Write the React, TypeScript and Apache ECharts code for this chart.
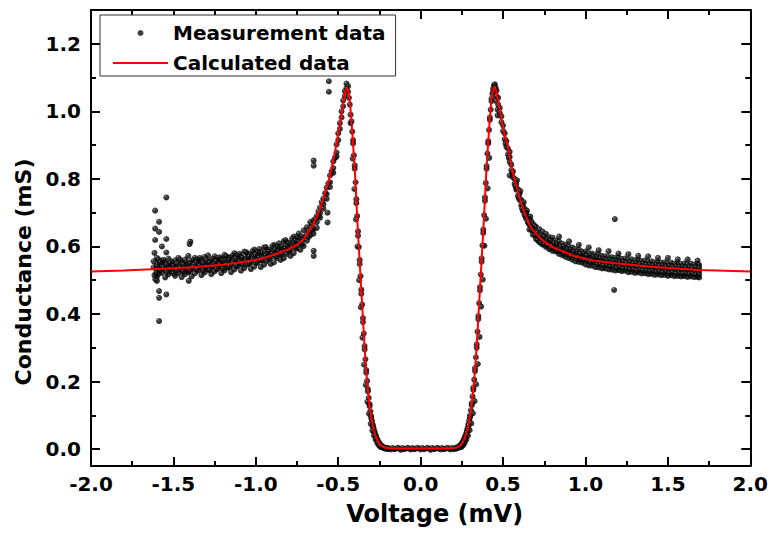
import React, { useEffect, useRef } from "react";
import * as echarts from "echarts";

// ---------- Data ----------
const xTicks = [-2.0, -1.5, -1.0, -0.5, 0.0, 0.5, 1.0, 1.5, 2.0];
const yMajorTicks = [0, 0.2, 0.4, 0.6, 0.8, 1.0, 1.2];
const yMinorTicks = [0.1, 0.3, 0.5, 0.7, 0.9, 1.1];

// Calculated data (red line)
const calcLeft: [number, number][] = [
  [-2.0, 0.526], [-1.8, 0.529], [-1.6, 0.533], [-1.4, 0.538], [-1.2, 0.546], [-1.11, 0.552],
  [-1.0, 0.560], [-0.91, 0.572], [-0.8, 0.592], [-0.75, 0.605], [-0.71, 0.622], [-0.66, 0.658],
  [-0.61, 0.711], [-0.56, 0.79], [-0.53, 0.855], [-0.51, 0.905], [-0.49, 0.962], [-0.47, 1.022],
  [-0.455, 1.062], [-0.448, 1.072], [-0.44, 1.062], [-0.43, 1.03], [-0.42, 0.975], [-0.41, 0.905],
  [-0.40, 0.83], [-0.39, 0.735], [-0.38, 0.64], [-0.37, 0.555], [-0.36, 0.47], [-0.35, 0.385],
  [-0.34, 0.30], [-0.33, 0.23], [-0.32, 0.175], [-0.31, 0.13], [-0.30, 0.095], [-0.29, 0.07],
  [-0.28, 0.05], [-0.27, 0.035], [-0.26, 0.025], [-0.25, 0.017], [-0.24, 0.010], [-0.22, 0.005],
  [-0.20, 0.003], [-0.15, 0.002], [-0.10, 0.002], [0.0, 0.002],
];
const calcRight: [number, number][] = [
  [0.10, 0.002], [0.15, 0.002], [0.20, 0.003], [0.22, 0.005], [0.24, 0.010], [0.25, 0.017],
  [0.26, 0.025], [0.27, 0.036], [0.28, 0.052], [0.29, 0.072], [0.30, 0.097], [0.31, 0.133],
  [0.32, 0.178], [0.33, 0.235], [0.34, 0.305], [0.35, 0.39], [0.36, 0.475], [0.37, 0.56],
  [0.38, 0.645], [0.39, 0.74], [0.40, 0.835], [0.41, 0.91], [0.42, 0.98], [0.43, 1.035],
  [0.44, 1.065], [0.449, 1.074], [0.457, 1.063], [0.47, 1.03], [0.49, 0.975], [0.51, 0.93],
  [0.53, 0.895], [0.55, 0.84], [0.57, 0.80], [0.60, 0.745], [0.63, 0.70], [0.67, 0.655],
  [0.73, 0.622], [0.80, 0.598], [0.93, 0.572], [1.05, 0.558], [1.17, 0.551], [1.4, 0.540],
  [1.69, 0.530], [2.0, 0.526],
];

// Measurement data (black dots)
const measLeftTail: [number, number][] = [
  [-1.62, 0.556], [-1.62, 0.538], [-1.615, 0.515], [-1.615, 0.581], [-1.61, 0.503],
  [-1.60, 0.549], [-1.60, 0.527], [-1.60, 0.510], [-1.60, 0.566], [-1.59, 0.561], [-1.59, 0.534], [-1.59, 0.519],
  [-1.57, 0.545], [-1.57, 0.522], [-1.57, 0.558], [-1.55, 0.552], [-1.55, 0.531], [-1.55, 0.508],
  [-1.53, 0.564], [-1.53, 0.540], [-1.53, 0.517], [-1.51, 0.547], [-1.51, 0.526], [-1.51, 0.555],
  [-1.49, 0.559], [-1.49, 0.535], [-1.49, 0.513], [-1.47, 0.542], [-1.47, 0.566], [-1.47, 0.521],
  [-1.45, 0.553], [-1.45, 0.530], [-1.45, 0.509], [-1.43, 0.561], [-1.43, 0.538], [-1.43, 0.518],
  [-1.41, 0.548], [-1.41, 0.572], [-1.41, 0.524], [-1.39, 0.557], [-1.39, 0.533], [-1.39, 0.511],
  [-1.37, 0.566], [-1.37, 0.541], [-1.37, 0.520], [-1.35, 0.550], [-1.35, 0.528], [-1.35, 0.562],
  [-1.33, 0.558], [-1.33, 0.537], [-1.33, 0.515], [-1.31, 0.569], [-1.31, 0.544], [-1.31, 0.523],
  [-1.29, 0.553], [-1.29, 0.531], [-1.29, 0.574], [-1.27, 0.561], [-1.27, 0.540], [-1.27, 0.518],
  [-1.25, 0.571], [-1.25, 0.547], [-1.25, 0.526], [-1.23, 0.556], [-1.23, 0.534], [-1.23, 0.566],
  [-1.21, 0.563], [-1.21, 0.542], [-1.21, 0.521], [-1.19, 0.575], [-1.19, 0.550], [-1.19, 0.529],
  [-1.17, 0.559], [-1.17, 0.537], [-1.17, 0.569], [-1.15, 0.567], [-1.15, 0.546], [-1.15, 0.524],
  [-1.13, 0.580], [-1.13, 0.554], [-1.13, 0.532], [-1.11, 0.563], [-1.11, 0.541], [-1.11, 0.573],
  [-1.09, 0.571], [-1.09, 0.549], [-1.09, 0.528], [-1.07, 0.585], [-1.07, 0.559], [-1.07, 0.536],
  [-1.05, 0.568], [-1.05, 0.546], [-1.05, 0.579], [-1.03, 0.576], [-1.03, 0.555], [-1.03, 0.533],
  [-1.01, 0.591], [-1.01, 0.564], [-1.01, 0.540], [-0.99, 0.573], [-0.99, 0.551], [-0.99, 0.584],
  [-0.97, 0.582], [-0.97, 0.560], [-0.97, 0.539], [-0.95, 0.597], [-0.95, 0.571], [-0.95, 0.546],
  [-0.93, 0.580], [-0.93, 0.557], [-0.93, 0.591], [-0.91, 0.589], [-0.91, 0.567], [-0.91, 0.548],
  [-0.89, 0.605], [-0.89, 0.579], [-0.89, 0.553], [-0.87, 0.589], [-0.87, 0.566], [-0.87, 0.600],
  [-0.85, 0.598], [-0.85, 0.577], [-0.85, 0.560], [-0.83, 0.616], [-0.83, 0.590], [-0.83, 0.565],
  [-0.81, 0.600], [-0.81, 0.578], [-0.81, 0.612], [-0.79, 0.610], [-0.79, 0.590], [-0.79, 0.572],
  [-0.77, 0.629], [-0.77, 0.604], [-0.77, 0.580], [-0.75, 0.615], [-0.75, 0.594], [-0.75, 0.628],
  [-0.73, 0.627], [-0.73, 0.607], [-0.73, 0.590], [-0.71, 0.648], [-0.71, 0.622], [-0.71, 0.601],
];
const measLeftTail2: [number, number][] = [
  [-1.60, 0.541], [-1.605, 0.521], [-1.58, 0.553], [-1.58, 0.530], [-1.56, 0.538], [-1.56, 0.560],
  [-1.54, 0.545], [-1.54, 0.524], [-1.52, 0.533], [-1.52, 0.551], [-1.50, 0.542], [-1.50, 0.520],
  [-1.48, 0.550], [-1.48, 0.528], [-1.46, 0.537], [-1.46, 0.561], [-1.44, 0.546], [-1.44, 0.525],
  [-1.42, 0.532], [-1.42, 0.554], [-1.40, 0.549], [-1.40, 0.527], [-1.38, 0.539], [-1.38, 0.560],
  [-1.36, 0.553], [-1.36, 0.531], [-1.34, 0.543], [-1.34, 0.566], [-1.32, 0.550], [-1.32, 0.529],
  [-1.30, 0.538], [-1.30, 0.560], [-1.28, 0.552], [-1.28, 0.530], [-1.26, 0.541], [-1.26, 0.563],
  [-1.24, 0.555], [-1.24, 0.533], [-1.22, 0.546], [-1.22, 0.568], [-1.20, 0.558], [-1.20, 0.535],
  [-1.18, 0.547], [-1.18, 0.571], [-1.16, 0.560], [-1.16, 0.539], [-1.14, 0.551], [-1.14, 0.574],
  [-1.12, 0.563], [-1.12, 0.542], [-1.10, 0.556], [-1.10, 0.578], [-1.08, 0.566], [-1.08, 0.545],
  [-1.06, 0.559], [-1.06, 0.583], [-1.04, 0.570], [-1.04, 0.549], [-1.02, 0.562], [-1.02, 0.586],
  [-1.00, 0.576], [-1.00, 0.553], [-0.98, 0.567], [-0.98, 0.592], [-0.96, 0.581], [-0.96, 0.558],
  [-0.94, 0.573], [-0.94, 0.598], [-0.92, 0.585], [-0.92, 0.563], [-0.90, 0.578], [-0.90, 0.601],
  [-0.88, 0.592], [-0.88, 0.570], [-0.86, 0.585], [-0.86, 0.609], [-0.84, 0.600], [-0.84, 0.576],
  [-0.82, 0.594], [-0.82, 0.619], [-0.80, 0.608], [-0.80, 0.585], [-0.78, 0.602], [-0.78, 0.624],
  [-0.76, 0.618], [-0.76, 0.596], [-0.74, 0.614], [-0.74, 0.638], [-0.72, 0.630], [-0.72, 0.607],
];
const measLeftPeak: [number, number][] = [
  [-0.69, 0.636], [-0.69, 0.617], [-0.69, 0.657], [-0.67, 0.653], [-0.67, 0.633], [-0.67, 0.672],
  [-0.65, 0.677], [-0.65, 0.652], [-0.65, 0.638], [-0.63, 0.672], [-0.63, 0.690], [-0.63, 0.655],
  [-0.61, 0.698], [-0.61, 0.716], [-0.61, 0.685], [-0.59, 0.725], [-0.59, 0.742], [-0.59, 0.712],
  [-0.57, 0.755], [-0.57, 0.774], [-0.57, 0.741], [-0.55, 0.790], [-0.55, 0.810], [-0.55, 0.776],
  [-0.53, 0.832], [-0.53, 0.852], [-0.53, 0.818], [-0.51, 0.878], [-0.51, 0.902], [-0.51, 0.866],
  [-0.68, 0.646], [-0.66, 0.664], [-0.64, 0.681], [-0.62, 0.704], [-0.60, 0.731], [-0.58, 0.758],
  [-0.56, 0.786], [-0.54, 0.822], [-0.52, 0.862], [-0.68, 0.628], [-0.66, 0.647], [-0.62, 0.690],
  [-0.50, 0.915], [-0.50, 0.935], [-0.49, 0.948], [-0.49, 0.965], [-0.48, 0.982], [-0.48, 1.000],
  [-0.47, 1.015], [-0.47, 1.032], [-0.46, 1.045], [-0.46, 1.060], [-0.45, 1.068], [-0.45, 1.082],
  [-0.44, 1.058], [-0.44, 1.074], [-0.435, 1.040], [-0.43, 1.020], [-0.425, 0.990], [-0.425, 0.965],
  [-0.42, 0.970], [-0.415, 0.940], [-0.41, 0.905], [-0.41, 0.915], [-0.405, 0.870], [-0.40, 0.830],
  [-0.40, 0.840], [-0.395, 0.790], [-0.39, 0.740], [-0.39, 0.728], [-0.385, 0.690], [-0.38, 0.645],
  [-0.38, 0.632], [-0.375, 0.598], [-0.37, 0.560], [-0.37, 0.548], [-0.365, 0.512], [-0.36, 0.472],
  [-0.36, 0.460], [-0.355, 0.428], [-0.35, 0.388], [-0.35, 0.376], [-0.345, 0.342], [-0.34, 0.305],
  [-0.34, 0.295], [-0.335, 0.266], [-0.33, 0.234], [-0.33, 0.226], [-0.325, 0.202], [-0.32, 0.178],
  [-0.32, 0.171], [-0.315, 0.152], [-0.31, 0.133], [-0.31, 0.127], [-0.305, 0.112], [-0.30, 0.098],
  [-0.30, 0.092], [-0.295, 0.083], [-0.29, 0.072], [-0.29, 0.067], [-0.285, 0.061], [-0.28, 0.052],
  [-0.28, 0.048], [-0.275, 0.043], [-0.27, 0.037], [-0.27, 0.033], [-0.265, 0.030], [-0.26, 0.026],
  [-0.26, 0.022], [-0.255, 0.020], [-0.25, 0.017], [-0.25, 0.014], [-0.245, 0.013], [-0.24, 0.011],
  [-0.24, 0.008], [-0.235, 0.009], [-0.23, 0.007], [-0.23, 0.004], [-0.22, 0.005], [-0.22, 0.002],
  [-0.21, 0.004], [-0.21, 0.001], [-0.20, 0.003], [-0.20, 0.000],
  [-0.412, 0.860], [-0.402, 0.770], [-0.392, 0.680], [-0.383, 0.600], [-0.373, 0.500], [-0.363, 0.420],
  [-0.353, 0.330], [-0.343, 0.250], [-0.333, 0.190], [-0.323, 0.140], [-0.313, 0.105], [-0.303, 0.075],
  [-0.293, 0.055], [-0.283, 0.040], [-0.273, 0.028], [-0.263, 0.018], [-0.253, 0.011], [-0.243, 0.006],
];
const measGap: [number, number][] = [
  [-0.19, 0.002], [-0.18, -0.001], [-0.17, 0.003], [-0.16, 0.000], [-0.15, 0.001], [-0.14, 0.004],
  [-0.13, 0.002], [-0.12, -0.002], [-0.11, 0.003], [-0.10, 0.000], [-0.09, 0.001], [-0.08, 0.004],
  [-0.07, 0.002], [-0.06, -0.001], [-0.05, 0.003], [-0.04, 0.000], [-0.03, 0.001], [-0.02, 0.004],
  [-0.01, 0.002], [0.00, -0.001], [0.01, 0.003], [0.02, 0.000], [0.03, 0.001], [0.04, 0.004],
  [0.05, 0.002], [0.06, -0.002], [0.07, 0.003], [0.08, 0.000], [0.09, 0.001], [0.10, 0.004],
  [0.11, 0.002], [0.12, -0.001], [0.13, 0.003], [0.14, 0.000], [0.15, 0.001], [0.16, 0.004],
  [0.17, 0.002], [0.18, -0.001], [0.19, 0.003],
];
const measRightPeak: [number, number][] = [
  [0.20, 0.000], [0.21, 0.004], [0.21, 0.001], [0.22, 0.005], [0.22, 0.002], [0.23, 0.007],
  [0.23, 0.004], [0.235, 0.009], [0.24, 0.011], [0.24, 0.008], [0.245, 0.013], [0.25, 0.017],
  [0.25, 0.014], [0.255, 0.021], [0.26, 0.026], [0.26, 0.023], [0.265, 0.031], [0.27, 0.038],
  [0.27, 0.034], [0.275, 0.044], [0.28, 0.054], [0.28, 0.049], [0.285, 0.062], [0.29, 0.074],
  [0.29, 0.069], [0.295, 0.085], [0.30, 0.100], [0.30, 0.094], [0.305, 0.115], [0.31, 0.136],
  [0.31, 0.130], [0.315, 0.156], [0.32, 0.182], [0.32, 0.175], [0.325, 0.206], [0.33, 0.240],
  [0.33, 0.231], [0.335, 0.272], [0.34, 0.310], [0.34, 0.300], [0.345, 0.348], [0.35, 0.394],
  [0.35, 0.385], [0.355, 0.432], [0.36, 0.480], [0.36, 0.470], [0.365, 0.517], [0.37, 0.565],
  [0.37, 0.555], [0.375, 0.603], [0.38, 0.650], [0.38, 0.640], [0.385, 0.693], [0.39, 0.745],
  [0.39, 0.735], [0.395, 0.788], [0.40, 0.838], [0.40, 0.830], [0.405, 0.875], [0.41, 0.912],
  [0.41, 0.905], [0.415, 0.945], [0.42, 0.982], [0.42, 0.975], [0.425, 1.005], [0.43, 1.038],
  [0.43, 1.030], [0.435, 1.052], [0.44, 1.068], [0.44, 1.060], [0.445, 1.078], [0.45, 1.080],
  [0.45, 1.066], [0.455, 1.070], [0.455, 1.058], [0.46, 1.062], [0.46, 1.045], [0.46, 1.030],
  [0.467, 0.988], [0.467, 1.005], [0.47, 1.040], [0.47, 1.020], [0.48, 1.010], [0.48, 0.995],
  [0.49, 0.985], [0.49, 0.968], [0.50, 0.958], [0.50, 0.942], [0.51, 0.935], [0.51, 0.918],
  [0.52, 0.912], [0.52, 0.895], [0.53, 0.890], [0.53, 0.872], [0.54, 0.865], [0.54, 0.850],
  [0.54, 0.880], [0.55, 0.842], [0.55, 0.826], [0.56, 0.822], [0.56, 0.805], [0.54, 0.810],
  [0.57, 0.800], [0.57, 0.785], [0.58, 0.785], [0.58, 0.768], [0.59, 0.770], [0.59, 0.750],
  [0.60, 0.755], [0.60, 0.738], [0.61, 0.738], [0.61, 0.722], [0.62, 0.722], [0.62, 0.705],
  [0.63, 0.712], [0.63, 0.694], [0.64, 0.700], [0.64, 0.682], [0.65, 0.690], [0.65, 0.672],
  [0.66, 0.682], [0.66, 0.664], [0.66, 0.650], [0.67, 0.675], [0.67, 0.655], [0.68, 0.668],
  [0.68, 0.648], [0.68, 0.635], [0.69, 0.662], [0.69, 0.642], [0.70, 0.658], [0.70, 0.636],
  [0.70, 0.622], [0.515, 0.905], [0.535, 0.862], [0.555, 0.818], [0.575, 0.778], [0.595, 0.744],
  [0.615, 0.712], [0.635, 0.690], [0.655, 0.668], [0.675, 0.648], [0.695, 0.632], [0.585, 0.796],
  [0.605, 0.764], [0.625, 0.731], [0.645, 0.706], [0.665, 0.688],
  [0.247, 0.006], [0.257, 0.011], [0.267, 0.018], [0.277, 0.028], [0.287, 0.040], [0.297, 0.056],
  [0.307, 0.076], [0.317, 0.106], [0.327, 0.142], [0.337, 0.192], [0.347, 0.252], [0.357, 0.332],
  [0.367, 0.422], [0.377, 0.502], [0.387, 0.602], [0.396, 0.682], [0.406, 0.772], [0.416, 0.862],
];
const measRightTail: [number, number][] = [
  [0.72, 0.651], [0.72, 0.629], [0.72, 0.613], [0.74, 0.644], [0.74, 0.621], [0.74, 0.605],
  [0.76, 0.637], [0.76, 0.616], [0.76, 0.599], [0.78, 0.628], [0.78, 0.611], [0.78, 0.592],
  [0.80, 0.626], [0.80, 0.603], [0.80, 0.587], [0.82, 0.617], [0.82, 0.601], [0.82, 0.585],
  [0.84, 0.614], [0.84, 0.593], [0.84, 0.578], [0.84, 0.629], [0.86, 0.608], [0.86, 0.591],
  [0.86, 0.574], [0.88, 0.605], [0.88, 0.585], [0.88, 0.569], [0.90, 0.599], [0.90, 0.583],
  [0.90, 0.565], [0.90, 0.615], [0.92, 0.597], [0.92, 0.577], [0.92, 0.561], [0.94, 0.592],
  [0.94, 0.576], [0.94, 0.556], [0.96, 0.591], [0.96, 0.570], [0.96, 0.554], [0.96, 0.605],
  [0.98, 0.585], [0.98, 0.569], [0.98, 0.552], [1.00, 0.585], [1.00, 0.564], [1.00, 0.547],
  [1.02, 0.580], [1.02, 0.564], [1.02, 0.544], [1.02, 0.597], [1.04, 0.579], [1.04, 0.559],
  [1.04, 0.543], [1.06, 0.576], [1.06, 0.559], [1.06, 0.539], [1.08, 0.576], [1.08, 0.555],
  [1.08, 0.538], [1.08, 0.589], [1.10, 0.572], [1.10, 0.555], [1.10, 0.535], [1.12, 0.571],
  [1.12, 0.551], [1.12, 0.535], [1.14, 0.569], [1.14, 0.552], [1.14, 0.532], [1.14, 0.586],
  [1.16, 0.568], [1.16, 0.548], [1.16, 0.531], [1.18, 0.566], [1.18, 0.549], [1.18, 0.529],
  [1.20, 0.567], [1.20, 0.546], [1.20, 0.530], [1.20, 0.579], [1.22, 0.563], [1.22, 0.546],
  [1.22, 0.527], [1.24, 0.564], [1.24, 0.543], [1.24, 0.528], [1.26, 0.561], [1.26, 0.544],
  [1.26, 0.524], [1.26, 0.577], [1.28, 0.562], [1.28, 0.541], [1.28, 0.525], [1.30, 0.559],
  [1.30, 0.542], [1.30, 0.522], [1.32, 0.560], [1.32, 0.539], [1.32, 0.523], [1.32, 0.572],
  [1.34, 0.557], [1.34, 0.540], [1.34, 0.520], [1.36, 0.558], [1.36, 0.537], [1.36, 0.521],
  [1.38, 0.555], [1.38, 0.538], [1.38, 0.518], [1.38, 0.571], [1.40, 0.556], [1.40, 0.535],
  [1.40, 0.519], [1.42, 0.553], [1.42, 0.536], [1.42, 0.516], [1.44, 0.554], [1.44, 0.533],
  [1.44, 0.517], [1.44, 0.566], [1.46, 0.552], [1.46, 0.535], [1.46, 0.515], [1.48, 0.553],
  [1.48, 0.532], [1.48, 0.516], [1.50, 0.550], [1.50, 0.533], [1.50, 0.513], [1.50, 0.566],
  [1.52, 0.552], [1.52, 0.531], [1.52, 0.515], [1.54, 0.549], [1.54, 0.532], [1.54, 0.512],
  [1.56, 0.551], [1.56, 0.530], [1.56, 0.513], [1.56, 0.562], [1.58, 0.548], [1.58, 0.531],
  [1.58, 0.511], [1.60, 0.550], [1.60, 0.529], [1.60, 0.512], [1.62, 0.547], [1.62, 0.530],
  [1.62, 0.510], [1.62, 0.562], [1.64, 0.549], [1.64, 0.528], [1.64, 0.511], [1.66, 0.546],
  [1.66, 0.529], [1.66, 0.509], [1.68, 0.548], [1.68, 0.527], [1.68, 0.510], [1.68, 0.558],
  [1.69, 0.545], [1.69, 0.528], [1.69, 0.508],
];
const measRightTail2: [number, number][] = [
  [0.71, 0.640], [0.71, 0.618], [0.73, 0.633], [0.73, 0.610], [0.75, 0.629], [0.75, 0.606],
  [0.77, 0.621], [0.77, 0.602], [0.79, 0.617], [0.79, 0.595], [0.81, 0.610], [0.81, 0.593],
  [0.83, 0.607], [0.83, 0.586], [0.85, 0.600], [0.85, 0.585], [0.87, 0.599], [0.87, 0.578],
  [0.89, 0.592], [0.89, 0.577], [0.91, 0.591], [0.91, 0.570], [0.93, 0.585], [0.93, 0.569],
  [0.95, 0.585], [0.95, 0.564], [0.97, 0.579], [0.97, 0.562], [0.99, 0.578], [0.99, 0.558],
  [1.01, 0.573], [1.01, 0.557], [1.03, 0.574], [1.03, 0.552], [1.05, 0.569], [1.05, 0.553],
  [1.07, 0.568], [1.07, 0.547], [1.09, 0.565], [1.09, 0.547], [1.11, 0.564], [1.11, 0.543],
  [1.13, 0.560], [1.13, 0.544], [1.15, 0.561], [1.15, 0.540], [1.17, 0.557], [1.17, 0.541],
  [1.19, 0.558], [1.19, 0.536], [1.21, 0.554], [1.21, 0.538], [1.23, 0.555], [1.23, 0.534],
  [1.25, 0.552], [1.25, 0.534], [1.27, 0.553], [1.27, 0.532], [1.29, 0.550], [1.29, 0.532],
  [1.31, 0.551], [1.31, 0.529], [1.33, 0.548], [1.33, 0.530], [1.35, 0.549], [1.35, 0.528],
  [1.37, 0.546], [1.37, 0.528], [1.39, 0.547], [1.39, 0.526], [1.41, 0.544], [1.41, 0.527],
  [1.43, 0.545], [1.43, 0.524], [1.45, 0.543], [1.45, 0.525], [1.47, 0.544], [1.47, 0.523],
  [1.49, 0.541], [1.49, 0.524], [1.51, 0.543], [1.51, 0.521], [1.53, 0.540], [1.53, 0.523],
  [1.55, 0.541], [1.55, 0.520], [1.57, 0.539], [1.57, 0.521], [1.59, 0.540], [1.59, 0.519],
  [1.61, 0.538], [1.61, 0.520], [1.63, 0.539], [1.63, 0.518], [1.65, 0.537], [1.65, 0.519],
  [1.67, 0.538], [1.67, 0.517], [1.69, 0.536], [1.69, 0.518],
];
const measOutliers: [number, number][] = [
  [-1.611, 0.706], [-1.543, 0.745], [-1.587, 0.673], [-1.611, 0.653], [-1.587, 0.643],
  [-1.611, 0.619], [-1.543, 0.622], [-1.570, 0.600], [-1.543, 0.582], [-1.397, 0.614],
  [-1.402, 0.607], [-1.600, 0.498], [-1.587, 0.468], [-1.587, 0.448], [-1.543, 0.458],
  [-1.587, 0.379], [-1.407, 0.498], [-0.557, 1.089], [-0.557, 1.058], [-0.649, 0.854],
  [-0.649, 0.839], [-0.565, 0.700], [-0.565, 0.671], [-0.649, 0.587], [-0.649, 0.572],
  [1.178, 0.681], [1.174, 0.471],
];

const measured = [
  ...measLeftTail, ...measLeftTail2, ...measLeftPeak, ...measGap,
  ...measRightPeak, ...measRightTail, ...measRightTail2, ...measOutliers,
];
const calculated = [...calcLeft, ...calcRight];

const FONT = '"DejaVu Sans", sans-serif';

export default function App() {
  const ref = useRef<HTMLDivElement>(null);
  useEffect(() => {
    if (!ref.current) return;
    const chart = echarts.init(ref.current, undefined, { renderer: "svg" });
    const axisLineStyle = { color: "#000", width: 2 };
    const fmt = (v: number) => v.toFixed(1);
    const dotColor = new echarts.graphic.RadialGradient(0.35, 0.3, 0.55, [
      { offset: 0, color: "#a0a0a0" },
      { offset: 0.3, color: "#151515" },
      { offset: 1, color: "#000000" },
    ]);
    const yCommon = { type: "value", min: -0.05, max: 1.3, splitLine: { show: false } };
    chart.setOption({
      animation: false,
      backgroundColor: "#fff",
      textStyle: { fontFamily: FONT },
      grid: { left: 91, right: 12, top: 10, bottom: 67, containLabel: false },
      legend: {
        left: 100,
        top: 15,
        orient: "vertical",
        borderColor: "#333",
        borderWidth: 1,
        backgroundColor: "#fff",
        padding: [8, 10, 3, 13],
        itemGap: 10,
        itemWidth: 55,
        itemHeight: 6,
        textStyle: { fontFamily: FONT, fontWeight: "bold", fontSize: 20, color: "#000" },
        data: [
          { name: "Measurement data", icon: "circle", itemStyle: { color: "#111" } },
          { name: "Calculated data", icon: "path://M0,0H55V2H0Z", itemStyle: { color: "#ff0000" } },
        ],
      },
      xAxis: [
        {
          type: "value", position: "bottom", min: xTicks[0], max: xTicks[xTicks.length - 1], interval: 0.5,
          splitLine: { show: false },
          axisLine: { show: true, onZero: false, lineStyle: axisLineStyle },
          axisTick: { show: true, inside: true, length: 9, lineStyle: axisLineStyle },
          minorTick: { show: true, splitNumber: 2, length: 5, lineStyle: axisLineStyle },
          axisLabel: { formatter: fmt, fontFamily: FONT, fontWeight: "bold", fontSize: 20, color: "#000", margin: 8 },
          name: "Voltage (mV)", nameLocation: "middle", nameGap: 36,
          nameTextStyle: { fontFamily: FONT, fontWeight: "bold", fontSize: 24, color: "#000", padding: [0, 0, 0, 28] },
        },
        {
          type: "value", position: "top", min: xTicks[0], max: xTicks[xTicks.length - 1], interval: 0.5,
          splitLine: { show: false },
          axisLine: { show: true, onZero: false, lineStyle: axisLineStyle },
          axisTick: { show: true, inside: true, length: 9, lineStyle: axisLineStyle },
          minorTick: { show: true, splitNumber: 2, length: 5, lineStyle: axisLineStyle },
          axisLabel: { show: false },
        },
      ],
      yAxis: [
        {
          ...yCommon, position: "left",
          axisLine: { show: true, onZero: false, lineStyle: axisLineStyle },
          axisTick: { show: true, inside: true, length: 9, lineStyle: axisLineStyle, customValues: yMajorTicks },
          axisLabel: { formatter: fmt, customValues: yMajorTicks, fontFamily: FONT, fontWeight: "bold", fontSize: 20, color: "#000", margin: 10 },
          name: "Conductance (mS)", nameLocation: "middle", nameGap: 49, nameRotate: 90,
          nameTextStyle: { fontFamily: FONT, fontWeight: "bold", fontSize: 22, color: "#000", padding: [0, 68, 0, 0] },
        },
        {
          ...yCommon, position: "left",
          axisLine: { show: false, onZero: false },
          axisTick: { show: true, inside: true, length: 5, lineStyle: axisLineStyle, customValues: yMinorTicks },
          axisLabel: { show: false },
        },
        {
          ...yCommon, position: "right",
          axisLine: { show: true, onZero: false, lineStyle: axisLineStyle },
          axisTick: { show: true, inside: true, length: 9, lineStyle: axisLineStyle, customValues: yMajorTicks },
          axisLabel: { show: false },
        },
        {
          ...yCommon, position: "right",
          axisLine: { show: false, onZero: false },
          axisTick: { show: true, inside: true, length: 5, lineStyle: axisLineStyle, customValues: yMinorTicks },
          axisLabel: { show: false },
        },
      ],
      series: [
        {
          name: "Measurement data", type: "scatter", xAxisIndex: 0, yAxisIndex: 0,
          data: measured, symbol: "circle", symbolSize: 6,
          itemStyle: { color: dotColor }, z: 2,
        },
        {
          name: "Calculated data", type: "line", xAxisIndex: 0, yAxisIndex: 0,
          data: calculated, symbol: "none", showSymbol: false,
          lineStyle: { color: "#ff0000", width: 2 }, itemStyle: { color: "#ff0000" }, z: 3,
        },
      ],
    });
    return () => chart.dispose();
  }, []);
  return (
    <div
      ref={ref}
      style={{ position: "fixed", left: 0, top: 0, width: 771, height: 533, background: "#fff" }}
    />
  );
}
